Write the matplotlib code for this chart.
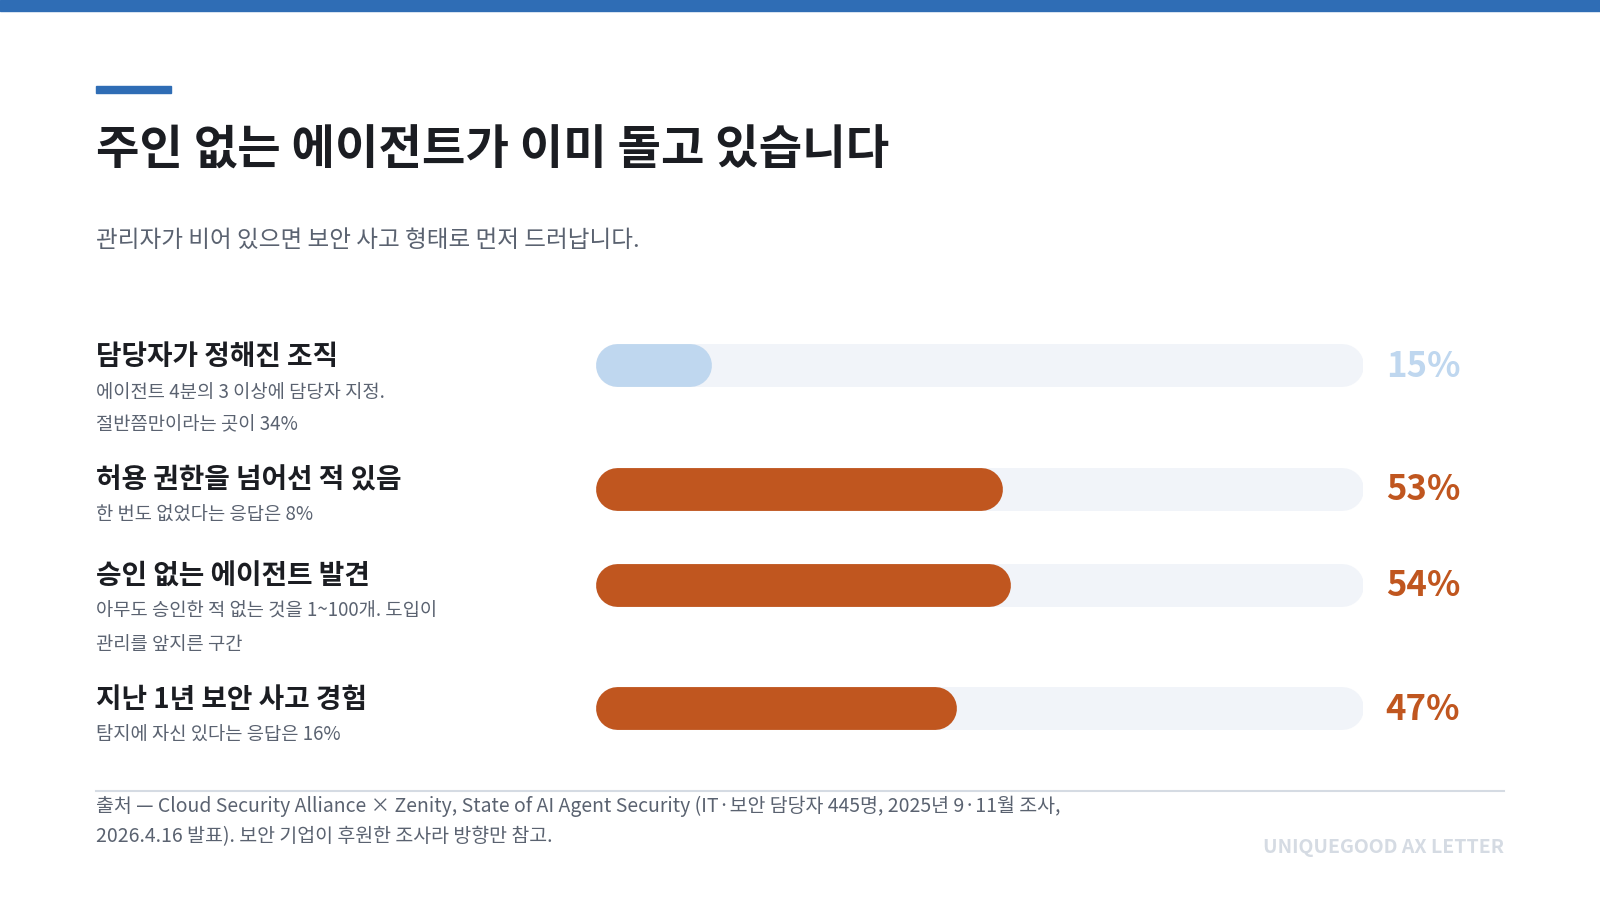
import matplotlib.pyplot as plt
from matplotlib.lines import Line2D

plt.rcParams['font.family'] = ['Noto Sans CJK KR', 'DejaVu Sans']

# ====데이터
labels = ['담당자가 정해진 조직', '허용 권한을 넘어선 적 있음', '승인 없는 에이전트 발견', '지난 1년 보안 사고 경험']
notes = ['에이전트 4분의 3 이상에 담당자 지정.\n절반쯤만이라는 곳이 34%',
         '한 번도 없었다는 응답은 8%',
         '아무도 승인한 적 없는 것을 1~100개. 도입이\n관리를 앞지른 구간',
         '탐지에 자신 있다는 응답은 16%']
values = [15, 53, 54, 47]
bar_colors = ['#bfd7ef', '#c0561f', '#c0561f', '#c0561f']

W, H = 1568, 882
row_y = [358, 479, 573, 694]  # 각 행 중심 (픽셀)

fig = plt.figure(figsize=(16, 9), dpi=100)
bg = fig.add_axes([0, 0, 1, 1])
bg.set_xlim(0, W)
bg.set_ylim(H, 0)
bg.axis('off')

# 상단 띠, 강조선
bg.add_patch(plt.Rectangle((0, 0), W, 11, color='#2f6db5'))
bg.add_patch(plt.Rectangle((94, 84), 74, 7, color='#2f6db5'))

bg.text(94, 148, '주인 없는 에이전트가 이미 돌고 있습니다', fontsize=34, fontweight='bold',
        color='#1b1d22', va='center')
bg.text(94, 236, '관리자가 비어 있으면 보안 사고 형태로 먼저 드러납니다.', fontsize=17,
        color='#5a6270', va='center')

for y, lab, note in zip(row_y, labels, notes):
    bg.text(94, y - 8, lab, fontsize=20, fontweight='bold', color='#1b1d22', va='center')
    bg.text(94, y + 16, note, fontsize=13.5, color='#5a6270', va='top', linespacing=1.75)

# 막대 (둥근 끝)
x0, x1 = 584, 1336
ax = fig.add_axes([x0 / W, 0, (x1 - x0) / W, 1])
ax.set_xlim(0, 100)
ax.set_ylim(H, 0)
ax.axis('off')
thick = 42
lw = thick * 72 / fig.dpi * (1600 / W)
r = (thick / 2) / (x1 - x0) * 100
for y, v, c in zip(row_y, values, bar_colors):
    ax.add_line(Line2D([r, 100 - r], [y, y], lw=lw, color='#f1f4f9', solid_capstyle='round'))
    ax.add_line(Line2D([r, v - r], [y, y], lw=lw, color=c, solid_capstyle='round'))
    bg.text(1358, y + 1, f'{v}%', fontsize=25, fontweight='bold', color=c, va='center')

# 하단
bg.plot([94, 1474], [775, 775], color='#d5dbe3', lw=1.5)
bg.text(94, 805, '출처 — Cloud Security Alliance × Zenity, State of AI Agent Security (IT·보안 담당자 445명, 2025년 9·11월 조사,\n2026.4.16 발표). 보안 기업이 후원한 조사라 방향만 참고.',
        fontsize=14, color='#5a6270', va='center', linespacing=1.6)
bg.text(1474, 831, 'UNIQUEGOOD AX LETTER', fontsize=14, fontweight='bold', color='#d5dbe3',
        ha='right', va='center')

fig.savefig('out.png', dpi=100, facecolor='white')
